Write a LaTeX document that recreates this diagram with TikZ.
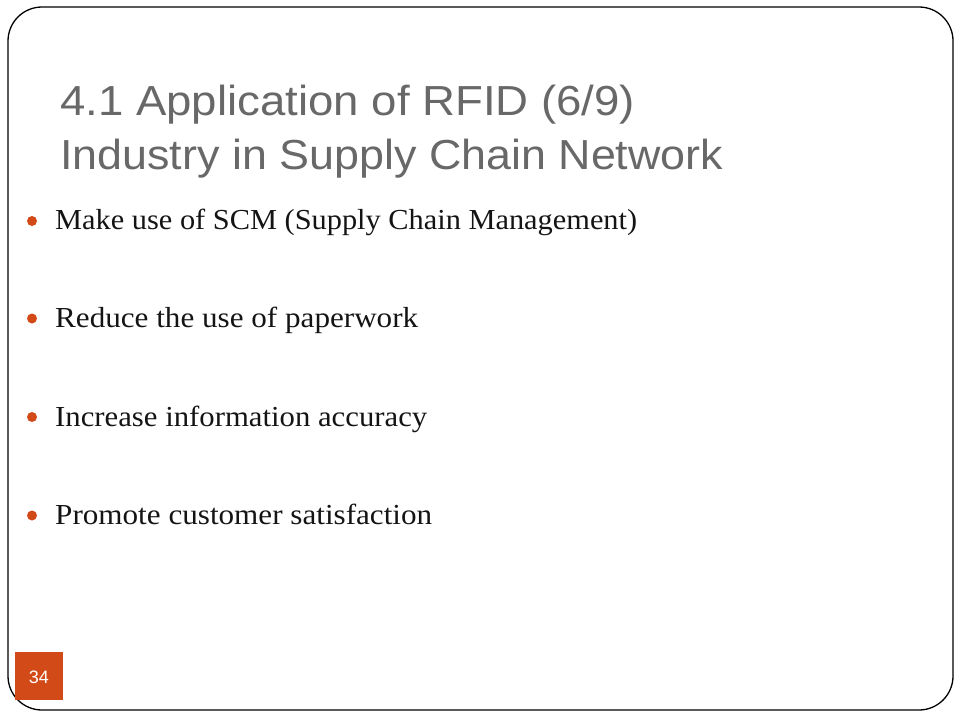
\documentclass[tikz,border=0pt]{standalone}
\usepackage{fontspec}
\usepackage{graphicx}
\setmainfont{Liberation Serif}
\newfontfamily\titlefont{Liberation Sans}
\definecolor{slideorange}{RGB}{210,74,24}
\definecolor{titlegray}{RGB}{104,104,104}
\definecolor{bodyblack}{RGB}{20,20,20}
\begin{document}
\begin{tikzpicture}[x=1pt,y=-1pt,
  titletext/.style={anchor=base west,inner sep=0pt,text=titlegray,font=\titlefont\fontsize{42}{42}\selectfont},
  bodytext/.style={anchor=base west,inner sep=0pt,text=bodyblack,font=\fontsize{29}{29}\selectfont},
  bulletdot/.style={circle,fill=slideorange,inner sep=0pt,minimum size=10pt},
  frame/.style={line width=1.3pt,rounded corners=34pt}]
\useasboundingbox (0,0) rectangle (960,720);
\draw[frame] (8,7) rectangle (953,710);
% title
\node[titletext] (t1) at (60,115) {\resizebox{575pt}{\height}{4.1 Application of RFID (6/9)}};
\node[titletext] (t2) at (60,169) {\resizebox{663pt}{\height}{Industry in Supply Chain Network}};
% bullets
\node[bulletdot] (d1) at (32,221) {};
\node[bodytext] (b1) at (55,229) {\resizebox{582pt}{\height}{Make use of SCM (Supply Chain Management)}};
\node[bulletdot] (d2) at (32,318.5) {};
\node[bodytext] (b2) at (55,327.5) {\resizebox{363pt}{\height}{Reduce the use of paperwork}};
\node[bulletdot] (d3) at (32,417) {};
\node[bodytext] (b3) at (55,426) {\resizebox{372pt}{\height}{Increase information accuracy}};
\node[bulletdot] (d4) at (32,515.5) {};
\node[bodytext] (b4) at (55,524.5) {\resizebox{377pt}{\height}{Promote customer satisfaction}};
% page number
\fill[slideorange] (15,652) rectangle (63,700);
\node[anchor=base,inner sep=0pt,text=white,font=\titlefont\fontsize{18}{18}\selectfont] (pn) at (39,683) {34};
\end{tikzpicture}
\end{document}
